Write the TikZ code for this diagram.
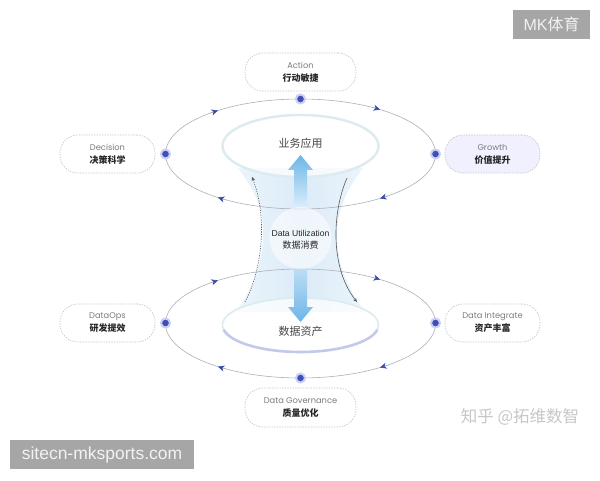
\documentclass[tikz,border=0pt]{standalone}
\usepackage{fontspec}
\setmainfont{Poppins}
\newfontfamily\cjk{Noto Sans CJK SC}
\newfontfamily\lib{Liberation Sans}
\usetikzlibrary{arrows.meta,calc}
\definecolor{ringc}{HTML}{ACB0BD}
\definecolor{dotc}{HTML}{3F4FB8}
\definecolor{haloc}{HTML}{CBD0F2}
\definecolor{tipc}{HTML}{3B4AA8}
\definecolor{boxc}{HTML}{C4C4C8}
\definecolor{engc}{HTML}{7C7C84}
\definecolor{cnc}{HTML}{262626}
\definecolor{wmc}{HTML}{A6A6A6}
\definecolor{func}{HTML}{D8EAF8}
\definecolor{arrc}{HTML}{6DB6E8}
\definecolor{rimc}{HTML}{DCEBF0}
\definecolor{rimb}{HTML}{C2CAEA}
\newcommand{\boxtxt}[2]{{\fontsize{8.3}{10}\selectfont\color{engc}#1}\\[1pt]{\cjk\bfseries\fontsize{9}{11}\selectfont\color{cnc}#2}}
\begin{document}
\begin{tikzpicture}[x=1pt,y=1pt,
  lblbox/.style={draw=boxc, line width=0.7pt, dash pattern=on 1.3pt off 1.3pt,
    rounded corners=18pt, minimum height=38pt, align=center, inner sep=0pt},
  dotm/.style={circle, fill=dotc, draw=haloc, line width=2pt, minimum size=9pt, inner sep=0pt},
  ringtip/.style={ringc, line width=0.6pt, -{Stealth[length=6.5pt,width=6pt,inset=2pt,color=tipc]}},
  curvearr/.style={draw=black!65, line width=0.6pt, -{Stealth[length=4pt,width=3.5pt]}}
]
\useasboundingbox (0,0) rectangle (600,480);
\fill[white] (0,0) rectangle (600,480);

% funnel
\shade[left color=func!55, right color=func!55, middle color=func, fill opacity=0.9]
  (238,312) .. controls (262,280) and (264,262) .. (263,243)
  .. controls (262,222) and (258,200) .. (236,168)
  -- (365,168) .. controls (342,200) and (337,222) .. (337,243)
  .. controls (337,262) and (340,282) .. (363,312) -- cycle;

% inner ellipses
\coordinate (itc) at (300.5,334);
\coordinate (ibc) at (300.5,155);
\fill[white, fill opacity=0.75] (itc) ellipse [x radius=78, y radius=31];
\draw[rimc, line width=2.4pt] (itc) ellipse [x radius=78, y radius=31];
\fill[white, fill opacity=0.75] (ibc) ellipse [x radius=78, y radius=27];
\draw[rimc, line width=1.6pt] (ibc) ellipse [x radius=78, y radius=27];
\draw[rimb, line width=2.6pt] ($(ibc)+(190:78 and 27)$) arc[start angle=190, end angle=350, x radius=78, y radius=27];

% outer ellipses
\coordinate (otc) at (300.5,326);
\coordinate (obc) at (300.5,156.5);
\draw[ringc, line width=0.6pt] (otc) ellipse [x radius=135, y radius=55];
\draw[ringc, line width=0.6pt] (obc) ellipse [x radius=135, y radius=54.5];
\foreach \t in {53.9,127.7,232.3,306.1}{
  \draw[ringtip] ($(otc)+({\t+4}:135 and 55)$) arc[start angle={\t+4}, end angle=\t, x radius=135, y radius=55];
  \draw[ringtip] ($(obc)+({\t+4}:135 and 54.5)$) arc[start angle={\t+4}, end angle=\t, x radius=135, y radius=54.5];
}

% central arrows
\shade[top color=arrc, bottom color=arrc!25]
  (294,273) -- (294,310) -- (288,310) -- (300.5,325) -- (313,310) -- (307,310) -- (307,273) -- cycle;
\shade[top color=arrc!45, bottom color=arrc]
  (294,212) -- (294,173) -- (288,173) -- (300.5,158) -- (313,173) -- (307,173) -- (307,212) -- cycle;

% center circle
\node[circle, minimum size=62pt, inner sep=0pt, fill=white, fill opacity=0.55] (ctr) at (300.5,242) {};
\node[align=center, inner sep=0pt] (ctrt) at (300.5,240)
  {{\lib\fontsize{8.6}{10}\selectfont\color{cnc} Data Utilization}\\[-0.5pt]{\cjk\fontsize{9}{11}\selectfont\color{cnc} 数据消费}};

% curved side arrows
\coordinate (la) at (245,178);
\coordinate (lb) at (252,303);
\draw[curvearr, dash pattern=on 1.2pt off 1.2pt] (la) .. controls (262,210) and (268,262) .. (lb);
\coordinate (ra) at (347,302);
\coordinate (rb) at (357,178);
\draw[curvearr] (ra) .. controls (332,268) and (330,212) .. (rb);

% inner labels
\node (biz) at (300.5,337) {\cjk\fontsize{11}{13}\selectfont\color{cnc!85} 业务应用};
\node (ast) at (300.5,149) {\cjk\fontsize{11}{13}\selectfont\color{cnc!85} 数据资产};

% dots
\node[dotm] (d1) at (300.5,381) {};
\node[dotm] (d2) at (165.5,326) {};
\node[dotm] (d3) at (435.5,326) {};
\node[dotm] (d4) at (165.5,157) {};
\node[dotm] (d5) at (435.5,157) {};
\node[dotm] (d6) at (300.5,102) {};

% label boxes
\node[lblbox, minimum width=111pt] (act) at (300.5,408) {\boxtxt{Action}{行动敏捷}};
\node[lblbox, minimum width=95pt] (dec) at (107.5,326) {\boxtxt{Decision}{决策科学}};
\node[lblbox, minimum width=95pt, fill=blue!6] (gro) at (492.5,326) {\boxtxt{Growth}{价值提升}};
\node[lblbox, minimum width=95pt] (ops) at (107.5,157) {\boxtxt{DataOps}{研发提效}};
\node[lblbox, minimum width=95pt] (int) at (492.5,157) {\boxtxt{Data Integrate}{资产丰富}};
\node[lblbox, minimum width=111pt, minimum height=39pt] (gov) at (300.5,72.5) {\boxtxt{Data Governance}{质量优化}};

% watermarks
\node[fill=wmc, minimum width=77pt, minimum height=29pt, inner sep=0pt, text=white!95!black] (mk) at (551.5,455.5)
  {\lib\fontsize{16}{18}\selectfont MK{\cjk 体育}};
\node[fill=wmc, minimum width=184pt, minimum height=29pt, inner sep=0pt, text=white!95!black] (site) at (102,25.5)
  {\lib\fontsize{17.5}{20}\selectfont sitecn-mksports.com};
\node[text=black!22] (zh) at (520,63)
  {\cjk\fontsize{16.5}{18}\selectfont 知乎 @拓维数智};
\end{tikzpicture}
\end{document}
